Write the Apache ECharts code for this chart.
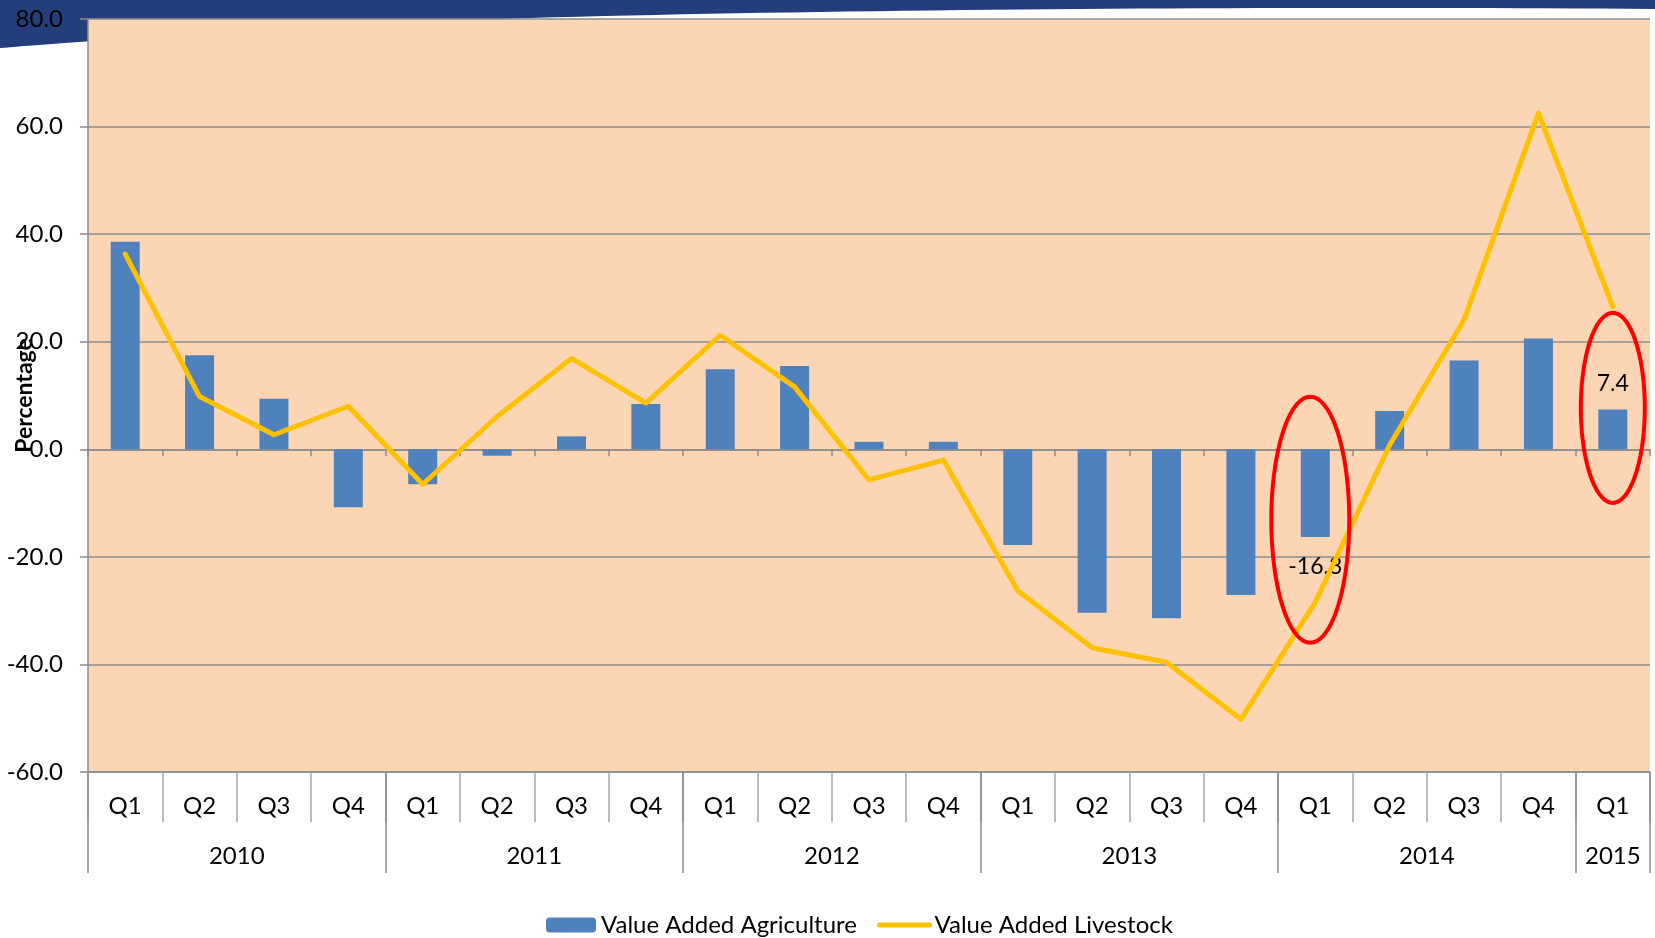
<!DOCTYPE html>
<html>
<head>
<meta charset="utf-8">
<script src="https://cdn.jsdelivr.net/npm/echarts@6/dist/echarts.min.js"></script>
<style>
    html, body { margin: 0; padding: 0; background: #fff; }
    #main { width: 1655px; height: 938px; }
</style>
</head>
<body>
<div id="main"></div>
<script>
    var quarters = ['Q1', 'Q2', 'Q3', 'Q4', 'Q1', 'Q2', 'Q3', 'Q4', 'Q1', 'Q2', 'Q3', 'Q4',
        'Q1', 'Q2', 'Q3', 'Q4', 'Q1', 'Q2', 'Q3', 'Q4', 'Q1'];
    var years = ['2010', '2011', '2012', '2013', '2014', '2015'];
    var yearStart = [0, 4, 8, 12, 16, 20];
    var yearLength = [4, 4, 4, 4, 4, 1];

    var agriculture = [38.6, 17.5, 9.4, -10.8, -6.5, -1.2, 2.4, 8.4, 14.9, 15.5, 1.4, 1.4,
        -17.8, -30.4, -31.4, -27.1, -16.3, 7.1, 16.5, 20.6, 7.4];
    var livestock = [36.3, 9.8, 2.7, 8.0, -6.5, 6.1, 16.9, 8.6, 21.2, 11.6, -5.7, -2.0,
        -26.3, -36.9, -39.6, -50.2, -28.4, 0.8, 24.1, 62.5, 26.5];

    // the two bars that carry a value and a red ring
    var labelled = [16, 20];

    var font = 'Lato';
    var gray = '#8c8c8c';

    var barData = agriculture.map(function (v, i) {
        if (labelled.indexOf(i) < 0) {
            return v;
        }
        return {
            value: v,
            label: {
                show: true,
                position: v < 0 ? 'bottom' : 'top',
                distance: v < 0 ? 18 : 14,
                fontFamily: font,
                fontSize: 23,
                color: '#000',
                formatter: function (p) { return p.value.toFixed(1); }
            }
        };
    });

    var myChart = echarts.init(document.getElementById('main'));
    var option = {
        animation: false,
        textStyle: { fontFamily: font },
        grid: {
            left: 88,
            right: 5,
            top: 19,
            bottom: 166,
            containLabel: false,
            outerBoundsMode: 'none',
            show: true,
            backgroundColor: '#fcd5b5',
            borderWidth: 0
        },
        legend: {
            left: 541,
            top: 908,
            itemWidth: 50,
            itemHeight: 15,
            itemGap: 20,
            textStyle: { fontFamily: font, fontSize: 24, color: '#000' },
            data: [
                'Value Added Agriculture',
                {
                    name: 'Value Added Livestock',
                    itemStyle: { opacity: 0 },
                    lineStyle: { width: 5, cap: 'round' }
                }
            ]
        },
        xAxis: [
            {
                // axis through zero with small boundary ticks
                type: 'category',
                data: quarters,
                axisLine: { onZero: true, lineStyle: { color: gray, width: 1.5 } },
                axisTick: { show: true, length: 7, lineStyle: { color: gray, width: 1.5 } },
                axisLabel: { show: false }
            },
            {
                type: 'category',
                data: quarters,
                position: 'bottom',
                axisLine: { show: true, onZero: false, lineStyle: { color: gray, width: 1.5 } },
                axisTick: { show: true, length: 50, interval: 0, lineStyle: { color: '#a6a6a6', width: 1.5 } },
                axisLabel: { interval: 0, margin: 22, fontFamily: font, fontSize: 24, color: '#000' }
            },
            {
                // year separators
                type: 'category',
                data: quarters,
                position: 'bottom',
                axisLine: { show: false, onZero: false },
                axisTick: {
                    show: true,
                    length: 101,
                    interval: function (i) { return yearStart.indexOf(i) >= 0; },
                    lineStyle: { color: gray, width: 1.5 }
                },
                axisLabel: { show: false }
            },
            {
                // year labels centred over their quarters
                type: 'value',
                min: 0,
                max: 21,
                interval: 0.5,
                position: 'bottom',
                axisLine: { show: false, onZero: false },
                axisTick: { show: false },
                splitLine: { show: false },
                axisLabel: {
                    margin: 72,
                    fontFamily: font,
                    fontSize: 24,
                    color: '#000',
                    formatter: function (v) {
                        for (var k = 0; k < years.length; k++) {
                            if (Math.abs(yearStart[k] + yearLength[k] / 2 - v) < 0.01) {
                                return years[k];
                            }
                        }
                        return '';
                    }
                }
            }
        ],
        yAxis: {
            type: 'value',
            min: -60,
            max: 80,
            interval: 20,
            name: 'Percentage',
            nameLocation: 'middle',
            nameGap: 52,
            nameMoveOverlap: false,
            nameTextStyle: { fontFamily: font, fontSize: 23, fontWeight: 'bold', color: '#000' },
            axisLine: { show: true, lineStyle: { color: gray, width: 1.5 } },
            axisTick: { show: true, length: 8, lineStyle: { color: gray, width: 1.5 } },
            axisLabel: {
                margin: 25,
                fontFamily: font,
                fontSize: 24,
                color: '#000',
                formatter: function (v) { return v.toFixed(1); }
            },
            splitLine: { lineStyle: { color: gray, width: 1.5 } }
        },
        series: [
            {
                name: 'Value Added Agriculture',
                type: 'bar',
                xAxisIndex: 0,
                barWidth: 29,
                itemStyle: { color: '#4f81bd' },
                data: barData
            },
            {
                name: 'Value Added Livestock',
                type: 'line',
                xAxisIndex: 0,
                symbol: 'none',
                z: 3,
                lineStyle: { color: '#ffc000', width: 5, cap: 'round', join: 'round' },
                itemStyle: { color: '#ffc000' },
                data: livestock
            }
        ]
    };
    myChart.setOption(option);

    // navy banner behind the top of the plot, lower edge is a soft curve
    function bezier(p0, p1, p2, p3, t) {
        var u = 1 - t;
        return u * u * u * p0 + 3 * u * u * t * p1 + 3 * u * t * t * p2 + t * t * t * p3;
    }
    var banner = [[0, 0], [1655, 0]];
    var curves = [
        [[1655, 9], [1300, 6], [850, 9], [530, 18]],
        [[530, 18], [300, 26], [100, 40], [0, 48]]
    ];
    curves.forEach(function (c) {
        for (var s = 0; s <= 40; s++) {
            var t = s / 40;
            banner.push([
                bezier(c[0][0], c[1][0], c[2][0], c[3][0], t),
                bezier(c[0][1], c[1][1], c[2][1], c[3][1], t)
            ]);
        }
    });

    var graphics = [
        {
            type: 'polygon',
            z: -10,
            shape: { points: banner },
            style: { fill: '#233e7b' }
        }
    ];

    // red rings around the two labelled bars
    var rings = [
        { index: 16, value: -13.1, dx: -5, rx: 39, ry: 123 },
        { index: 20, value: 7.7, dx: 0, rx: 32, ry: 95 }
    ];
    rings.forEach(function (r) {
        var c = myChart.convertToPixel({ xAxisIndex: 0, yAxisIndex: 0 }, [r.index, r.value]);
        var pts = [];
        for (var a = 0; a < 72; a++) {
            var t = a / 72 * Math.PI * 2;
            pts.push([c[0] + r.dx + r.rx * Math.cos(t), c[1] + r.ry * Math.sin(t)]);
        }
        graphics.push({
            type: 'polygon',
            z: 100,
            shape: { points: pts },
            style: { fill: null, stroke: '#ff0000', lineWidth: 4 }
        });
    });
    myChart.setOption({ graphic: graphics });
</script>
</body>
</html>
